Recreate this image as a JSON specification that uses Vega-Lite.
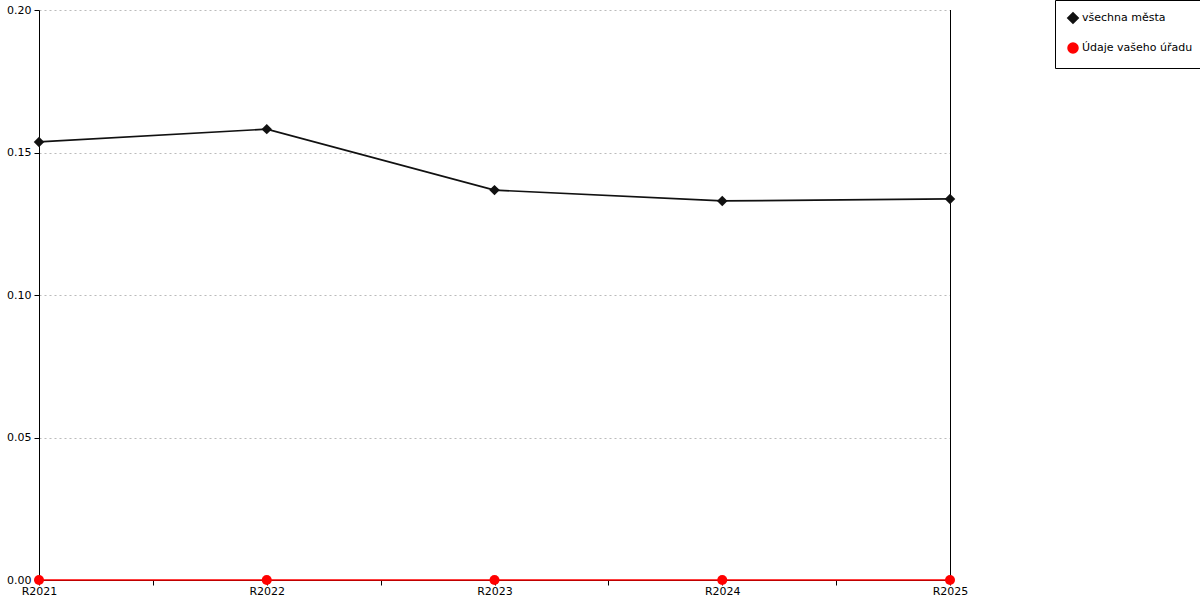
{
  "$schema": "https://vega.github.io/schema/vega-lite/v6.json",
  "width": 911,
  "height": 570,
  "autosize": "none",
  "padding": {"left": 39, "top": 10, "right": 250, "bottom": 20},
  "background": "white",
  "config": {
    "view": {"stroke": null},
    "font": "DejaVu Sans",
    "axis": {"labelFont": "DejaVu Sans", "labelFontSize": 11, "labelColor": "#000", "domainColor": "#000", "tickColor": "#000"},
    "legend": {"title": null, "orient": "none", "legendX": 1016, "legendY": -10,
      "strokeColor": "#000", "padding": 12, "rowPadding": 13, "labelFontSize": 11, "labelFont": "DejaVu Sans", "labelColor": "#000", "labelOffset": 3, "symbolOpacity": 1}
  },
  "data": {"values": [
    {"year": 2021, "series": "všechna města", "value": 0.1537},
    {"year": 2022, "series": "všechna města", "value": 0.1582},
    {"year": 2023, "series": "všechna města", "value": 0.1368},
    {"year": 2024, "series": "všechna města", "value": 0.1330},
    {"year": 2025, "series": "všechna města", "value": 0.1337},
    {"year": 2021, "series": "Údaje vašeho úřadu", "value": 0},
    {"year": 2022, "series": "Údaje vašeho úřadu", "value": 0},
    {"year": 2023, "series": "Údaje vašeho úřadu", "value": 0},
    {"year": 2024, "series": "Údaje vašeho úřadu", "value": 0},
    {"year": 2025, "series": "Údaje vašeho úřadu", "value": 0}
  ]},
  "encoding": {
    "x": {
      "field": "year", "type": "quantitative",
      "scale": {"domain": [2021, 2025], "nice": false, "zero": false},
      "axis": {
        "title": null, "grid": false, "domain": true,
        "values": [2021, 2021.5, 2022, 2022.5, 2023, 2023.5, 2024, 2024.5, 2025],
        "labelExpr": "datum.value % 1 == 0 ? 'R' + datum.value : ''",
        "tickSize": 5, "labelPadding": 0, "labelFlush": false
      }
    },
    "y": {
      "field": "value", "type": "quantitative",
      "scale": {"domain": [0, 0.2], "nice": false},
      "axis": {
        "title": null, "values": [0, 0.05, 0.1, 0.15, 0.2], "format": ".2f",
        "grid": true, "gridDash": [2, 3], "gridColor": "#bbbbbb", "gridWidth": 1,
        "tickSize": 5, "labelPadding": 3
      }
    }
  },
  "layer": [
    {
      "mark": {"type": "rule", "color": "#000", "strokeWidth": 1, "xOffset": 0.5},
      "encoding": {"x": {"datum": 2025}, "y": {"datum": 0}, "y2": {"datum": 0.2}}
    },
    {
      "mark": {"type": "line", "strokeWidth": 1.7},
      "encoding": {
        "color": {"field": "series", "type": "nominal", "scale": {"domain": ["všechna města", "Údaje vašeho úřadu"], "range": ["#111111", "#ff0000"]}},
        "detail": {"field": "series"}
      }
    },
    {
      "mark": {"type": "point", "filled": true, "opacity": 1},
      "encoding": {
        "color": {"field": "series", "type": "nominal"},
        "shape": {"field": "series", "type": "nominal", "scale": {"domain": ["všechna města", "Údaje vašeho úřadu"], "range": ["diamond", "circle"]}},
        "size": {"field": "series", "type": "nominal", "scale": {"domain": ["všechna města", "Údaje vašeho úřadu"], "range": [110, 100]}}
      }
    }
  ]
}
